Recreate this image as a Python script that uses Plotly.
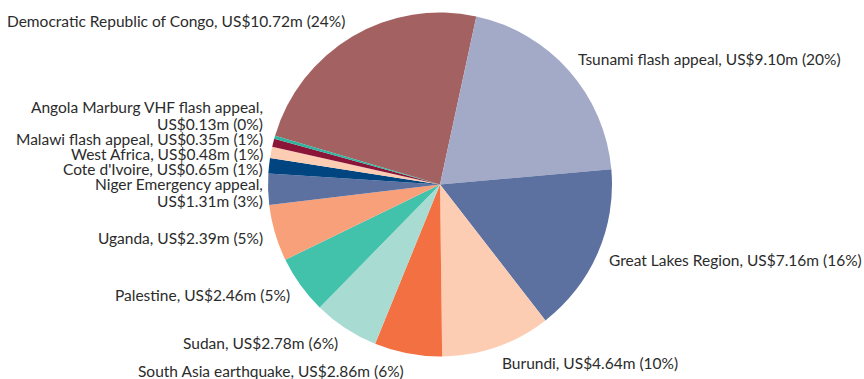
import math
import plotly.graph_objects as go

# Funding by appeal, US$ millions
appeals = [
    "Democratic Republic of Congo",
    "Tsunami flash appeal",
    "Great Lakes Region",
    "Burundi",
    "South Asia earthquake",
    "Sudan",
    "Palestine",
    "Uganda",
    "Niger Emergency appeal",
    "Cote d'Ivoire",
    "West Africa",
    "Malawi flash appeal",
    "Angola Marburg VHF flash appeal",
]
funding = [10.72, 9.10, 7.16, 4.64, 2.86, 2.78, 2.46, 2.39, 1.31, 0.65, 0.48, 0.35, 0.13]
wrapped = {"Niger Emergency appeal", "Angola Marburg VHF flash appeal"}

colors = [
    "#a46161", "#a3aac8", "#5d71a0", "#fccdb3", "#f37042", "#a8dbd1",
    "#42c1ab", "#f7a07a", "#5d71a0", "#00457f", "#fccdb3", "#8a1538", "#2fb39e",
]

W, H = 864, 379
CX, CY, R = 440.0, 184.5, 172.0       # pie centre and radius in pixels
ROTATION = -73.5                      # start angle of the first slice
LABEL_DIST = 10.0                     # gap between rim and label anchor
ROW = 15.0                            # vertical room of one label line
LINE_PITCH = 17.0                     # line spacing inside a wrapped label
FONT = dict(family="Lato", size=15.5, color="#2b2b2b")

total = sum(funding)

# label lines and anchor position of every slice
labels = []
cum = 0.0
for name, v in zip(appeals, funding):
    value = f"US${v:.2f}m ({round(100 * v / total)}%)"
    lines = [f"{name},", value] if name in wrapped else [f"{name}, {value}"]
    theta = math.radians(ROTATION + 360.0 * (cum + v / 2) / total)
    cum += v
    d = R + LABEL_DIST
    h = (len(lines) - 1) * LINE_PITCH + ROW
    labels.append(dict(
        lines=lines,
        h=h,
        left=math.sin(theta) < 0,
        x=CX + d * math.sin(theta),
        # labels near the top sit above the anchor, near the bottom below it
        y=CY - d * math.cos(theta) - math.cos(theta) * h / 2,
    ))

# spread crowded labels vertically on each side
for side in (True, False):
    group = sorted([l for l in labels if l["left"] == side], key=lambda l: l["y"])
    for _ in range(1000):
        moved = False
        for a, b in zip(group, group[1:]):
            need = (a["h"] + b["h"]) / 2
            gap = b["y"] - a["y"]
            if gap < need - 1e-6:
                shift = (need - gap) / 2
                a["y"] -= shift
                b["y"] += shift
                moved = True
        if not moved:
            break

annotations = []
for l in labels:
    dx = l["x"] - CX
    dx = math.copysign(min(abs(dx), R + 3), dx)
    n = len(l["lines"])
    for i, line in enumerate(l["lines"]):
        y = l["y"] + (i - (n - 1) / 2) * LINE_PITCH
        annotations.append(dict(
            x=(CX + dx) / W,
            y=1 - y / H,
            xref="paper",
            yref="paper",
            text=line,
            showarrow=False,
            xanchor="right" if l["left"] else "left",
            yanchor="middle",
            font=FONT,
        ))

fig = go.Figure(go.Pie(
    labels=appeals,
    values=funding,
    textinfo="none",
    sort=False,
    direction="clockwise",
    rotation=ROTATION,
    marker=dict(colors=colors, line=dict(width=0)),
    showlegend=False,
    hoverinfo="label+value+percent",
    domain=dict(
        x=[(CX - R) / W, (CX + R) / W],
        y=[1 - (CY + R) / H, 1 - (CY - R) / H],
    ),
))

fig.update_layout(
    width=W,
    height=H,
    margin=dict(l=0, r=0, t=0, b=0),
    paper_bgcolor="white",
    plot_bgcolor="white",
    annotations=annotations,
)

fig.write_html("out.html")
